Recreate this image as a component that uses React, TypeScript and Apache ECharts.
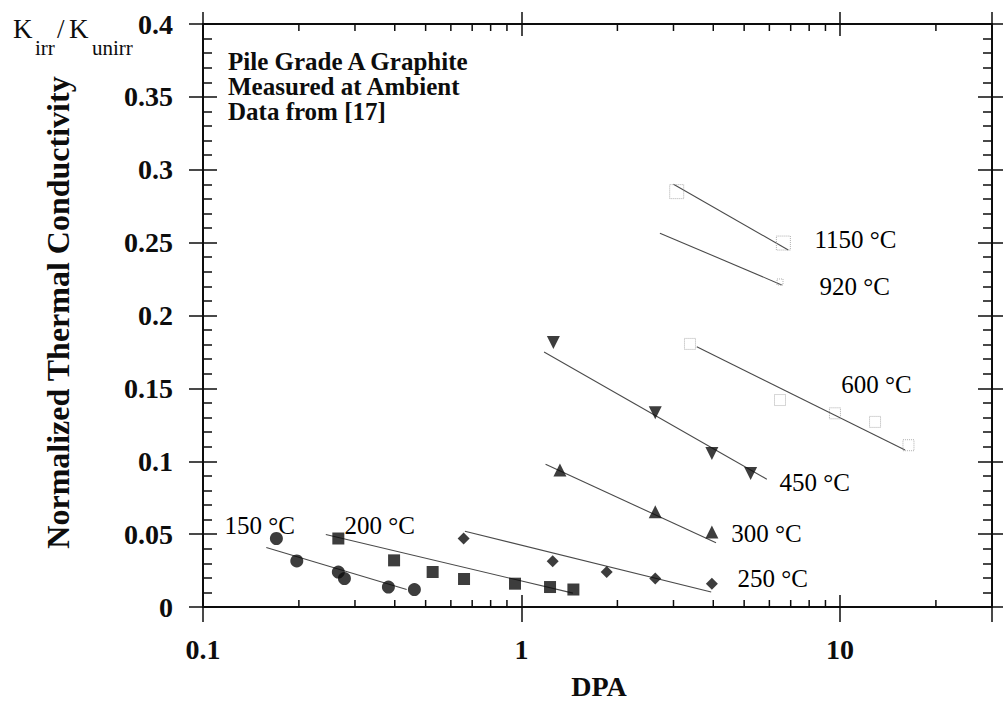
import React, { useEffect, useRef } from "react";
import * as echarts from "echarts";

// ---- data ----
const t150X = [0.17, 0.197, 0.266, 0.278, 0.382, 0.461];
const t150Y = [0.047, 0.0316, 0.024, 0.0195, 0.0137, 0.012];

const t200X = [0.266, 0.398, 0.526, 0.66, 0.954, 1.229, 1.455];
const t200Y = [0.047, 0.032, 0.024, 0.0192, 0.016, 0.0137, 0.012];

const t250X = [0.658, 1.253, 1.851, 2.63, 3.96];
const t250Y = [0.047, 0.0314, 0.024, 0.0195, 0.016];

const t300X = [1.32, 2.63, 3.96];
const t300Y = [0.094, 0.0653, 0.0515];

const t450X = [1.259, 2.63, 3.96, 5.24];
const t450Y = [0.1814, 0.1333, 0.1054, 0.0916];

const t600X = [3.38, 6.48, 9.64, 12.88, 16.4];
const t600Y = [0.1805, 0.142, 0.1329, 0.127, 0.111];

const t920X = [6.48];
const t920Y = [0.223];

const t1150X = [3.07, 6.64];
const t1150Y = [0.285, 0.2497];

// fitted trend lines (start / end points)
const fit150 = [[0.158, 0.0408], [0.436, 0.012]];
const fit200 = [[0.243, 0.0497], [1.45, 0.0095]];
const fit250 = [[0.664, 0.052], [3.94, 0.0103]];
const fit300 = [[1.19, 0.098], [4.08, 0.044]];
const fit450 = [[1.177, 0.175], [5.89, 0.0877]];
const fit600 = [[3.55, 0.1786], [16.0, 0.1077]];
const fit920 = [[2.72, 0.2565], [6.56, 0.221]];
const fit1150 = [[3.0, 0.29], [6.88, 0.245]];

// temperature labels and their anchors (data space, left edge / middle)
const tempLabels = ["150 °C", "200 °C", "250 °C", "300 °C", "450 °C", "600 °C", "920 °C", "1150 °C"];
const tempLabelX = [0.1172, 0.279, 4.78, 4.57, 6.48, 10.12, 8.65, 8.34];
const tempLabelY = [0.0558, 0.0558, 0.019, 0.05, 0.0853, 0.1523, 0.2196, 0.2516];

// axis settings
const xMin = 0.1;
const xMax = 30;
const yMin = 0;
const yMax = 0.4;
const yInterval = 0.05;
const xMinorTicks = [0.2, 0.3, 0.4, 0.5, 0.6, 0.7, 0.8, 0.9, 2, 3, 4, 5, 6, 7, 8, 9, 20];

const INK = "#0d0d0d";
const SERIF = "Liberation Serif";

const zip = (xs: number[], ys: number[]) => xs.map((x, i) => [x, ys[i]]);

function buildOption() {
  const tickStyle = { color: INK, width: 1.5 };
  const xLabelFormatter = (v: number) => {
    const l = Math.log10(v);
    if (Math.abs(l - Math.round(l)) > 1e-6) return "";
    return String(Number(Math.pow(10, Math.round(l)).toPrecision(3)));
  };
  const baseX = {
    type: "log",
    logBase: 10,
    min: xMin,
    max: xMax,
    splitLine: { show: false },
    minorTick: { show: false },
    axisPointer: { show: false },
  };
  const baseY = {
    type: "value",
    min: yMin,
    max: yMax,
    interval: yInterval,
    splitLine: { show: false },
    axisPointer: { show: false },
  };
  const axisLine = { show: true, onZero: false, lineStyle: { color: INK, width: 2 } };
  const noLine = { show: false, onZero: false };

  const markerSeries = (name: string, xs: number[], ys: number[], symbol: string, size: number, extra: any = {}) => ({
    name,
    type: "scatter",
    data: zip(xs, ys),
    symbol,
    symbolSize: size,
    itemStyle: { color: INK },
    z: 4,
    ...extra,
  });
  const fitSeries = (name: string, pts: number[][]) => ({
    name,
    type: "line",
    data: pts,
    symbol: "none",
    lineStyle: { color: "#4a4a4a", width: 1.1 },
    z: 3,
  });
  const openStyle = (color: string) => ({
    itemStyle: { color: "rgba(0,0,0,0)", borderColor: color, borderWidth: 1, borderType: "dotted" },
  });

  return {
    animation: false,
    backgroundColor: "#fff",
    grid: { left: 203, right: 11, top: 24, bottom: 94, containLabel: false, outerBoundsMode: "none" },
    xAxis: [
      {
        ...baseX,
        position: "bottom",
        axisLine,
        axisTick: { show: true, inside: true, length: 12, lineStyle: tickStyle },
        axisLabel: {
          show: true,
          margin: 28,
          formatter: xLabelFormatter,
          color: INK,
          fontFamily: SERIF,
          fontWeight: "bold",
          fontSize: 28,
        },
      },
      {
        ...baseX,
        position: "bottom",
        axisLine: noLine,
        axisTick: { show: true, inside: false, length: 15, lineStyle: tickStyle },
        axisLabel: { show: false },
      },
      {
        ...baseX,
        position: "top",
        axisLine,
        axisTick: { show: true, inside: true, length: 12, lineStyle: tickStyle },
        axisLabel: { show: false },
      },
      {
        ...baseX,
        position: "top",
        axisLine: noLine,
        axisTick: { show: true, inside: false, length: 12, lineStyle: tickStyle },
        axisLabel: { show: false },
      },
    ],
    yAxis: [
      {
        ...baseY,
        position: "left",
        axisLine,
        axisTick: { show: true, inside: true, length: 14, lineStyle: tickStyle },
        minorTick: { show: true, splitNumber: 5, length: 9, lineStyle: tickStyle },
        axisLabel: {
          show: true,
          margin: 30,
          color: INK,
          fontFamily: SERIF,
          fontWeight: "bold",
          fontSize: 28,
        },
      },
      {
        ...baseY,
        position: "left",
        axisLine: noLine,
        axisTick: { show: true, inside: false, length: 14, lineStyle: tickStyle },
        axisLabel: { show: false },
      },
      {
        ...baseY,
        position: "right",
        axisLine,
        axisTick: { show: true, inside: true, length: 14, lineStyle: tickStyle },
        minorTick: { show: true, splitNumber: 5, length: 9, lineStyle: tickStyle },
        axisLabel: { show: false },
      },
      {
        ...baseY,
        position: "right",
        axisLine: noLine,
        axisTick: { show: true, inside: false, length: 12, lineStyle: tickStyle },
        axisLabel: { show: false },
      },
    ],
    series: [
      {
        name: "minor x ticks",
        type: "custom",
        data: xMinorTicks.map((v) => [v, yMin]),
        silent: true,
        z: 5,
        renderItem: (_p: any, api: any) => {
          const v = api.value(0);
          const b = api.coord([v, yMin]);
          const t = api.coord([v, yMax]);
          const st = { stroke: INK, lineWidth: 1.5 };
          return {
            type: "group",
            children: [
              { type: "line", shape: { x1: b[0], y1: b[1], x2: b[0], y2: b[1] - 7 }, style: st },
              { type: "line", shape: { x1: t[0], y1: t[1], x2: t[0], y2: t[1] + 7 }, style: st },
            ],
          };
        },
      },
      fitSeries("fit 150", fit150),
      fitSeries("fit 200", fit200),
      fitSeries("fit 250", fit250),
      fitSeries("fit 300", fit300),
      fitSeries("fit 450", fit450),
      fitSeries("fit 600", fit600),
      fitSeries("fit 920", fit920),
      fitSeries("fit 1150", fit1150),
      markerSeries("150 °C", t150X, t150Y, "circle", 13),
      markerSeries("200 °C", t200X, t200Y, "rect", 12),
      markerSeries("250 °C", t250X, t250Y, "diamond", 12),
      markerSeries("300 °C", t300X, t300Y, "triangle", 13),
      markerSeries("450 °C", t450X, t450Y, "triangle", 13, { symbolRotate: 180 }),
      markerSeries("600 °C", t600X, t600Y, "rect", 11, openStyle("#9a9a9a")),
      markerSeries("920 °C", t920X, t920Y, "rect", 6, openStyle("#9a9a9a")),
      markerSeries("1150 °C", t1150X, t1150Y, "rect", 14, openStyle("#9a9a9a")),
      {
        name: "temperature labels",
        type: "scatter",
        silent: true,
        symbolSize: 1,
        itemStyle: { color: "#fff", opacity: 1 },
        z: 6,
        data: tempLabels.map((n, i) => ({ name: n, value: [tempLabelX[i], tempLabelY[i]] })),
        label: {
          show: true,
          position: [0, 0],
          align: "left",
          verticalAlign: "middle",
          formatter: "{b}",
          color: "#000",
          opacity: 1,
          fontFamily: SERIF,
          fontSize: 25,
        },
      },
    ],
    graphic: [
      {
        type: "text",
        x: 57.5,
        y: 312.5,
        rotation: Math.PI / 2,
        style: {
          text: "Normalized Thermal Conductivity",
          fill: INK,
          fontFamily: SERIF,
          fontWeight: "bold",
          fontSize: 32,
          align: "center",
          verticalAlign: "middle",
        },
      },
      {
        type: "text",
        x: 599,
        y: 686,
        style: {
          text: "DPA",
          fill: INK,
          fontFamily: SERIF,
          fontWeight: "bold",
          fontSize: 28,
          align: "center",
          verticalAlign: "middle",
        },
      },
      {
        type: "text",
        x: 228,
        y: 49,
        style: {
          text: "Pile Grade A Graphite\nMeasured at Ambient\nData from [17]",
          fill: INK,
          fontFamily: SERIF,
          fontWeight: "bold",
          fontSize: 25,
          lineHeight: 25,
          align: "left",
          verticalAlign: "top",
        },
      },
      {
        type: "text",
        x: 13,
        y: 29,
        style: { text: "K", fill: INK, fontFamily: SERIF, fontSize: 27, align: "left", verticalAlign: "middle" },
      },
      {
        type: "text",
        x: 35,
        y: 48,
        style: { text: "irr", fill: INK, fontFamily: SERIF, fontSize: 21, align: "left", verticalAlign: "middle" },
      },
      {
        type: "text",
        x: 57,
        y: 29,
        style: { text: "/", fill: INK, fontFamily: SERIF, fontSize: 27, align: "left", verticalAlign: "middle" },
      },
      {
        type: "text",
        x: 69,
        y: 29,
        style: { text: "K", fill: INK, fontFamily: SERIF, fontSize: 27, align: "left", verticalAlign: "middle" },
      },
      {
        type: "text",
        x: 92,
        y: 48,
        style: { text: "unirr", fill: INK, fontFamily: SERIF, fontSize: 21, align: "left", verticalAlign: "middle" },
      },
    ],
  };
}

export default function App() {
  const ref = useRef<HTMLDivElement>(null);
  useEffect(() => {
    if (!ref.current) return;
    const chart = echarts.init(ref.current, undefined, { renderer: "svg" });
    chart.setOption(buildOption() as any);
    return () => chart.dispose();
  }, []);
  return (
    <div
      ref={ref}
      style={{ position: "absolute", left: 0, top: 0, width: 1003, height: 701, background: "#fff" }}
    />
  );
}
